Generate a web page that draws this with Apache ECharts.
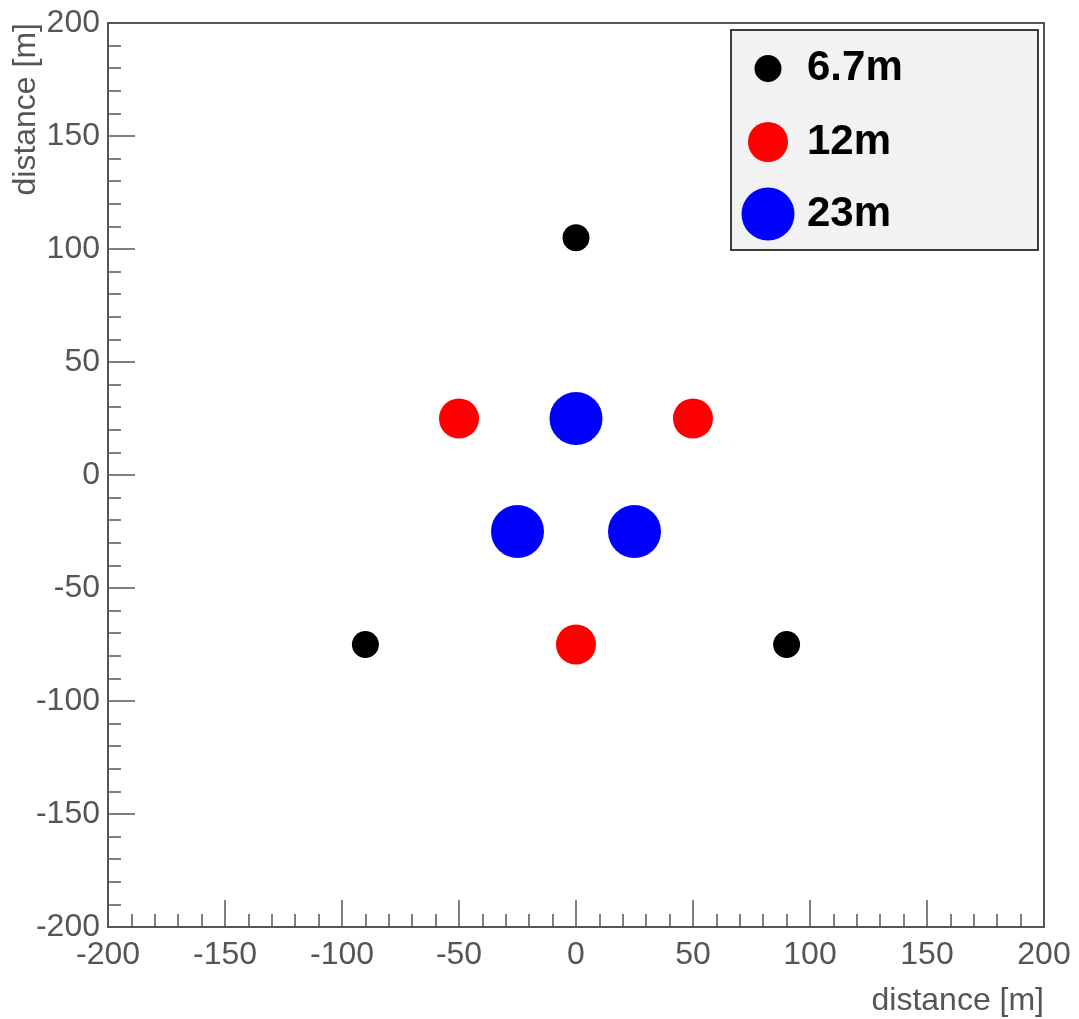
<!DOCTYPE html>
<html>
<head>
<meta charset="utf-8">
<script src="https://cdn.jsdelivr.net/npm/echarts@6/dist/echarts.min.js"></script>
<style>
html,body{margin:0;padding:0;background:#fff;}
#chart{width:1079px;height:1019px;}
</style>
</head>
<body>
<div id="chart"></div>
<script>
// Data
const seriesNames = ['6.7m', '12m', '23m'];
const blackX = [0, -90, 90];
const blackY = [105, -75, -75];
const redX = [-50, 50, 0];
const redY = [25, 25, -75];
const blueX = [0, -25, 25];
const blueY = [25, -25, -25];
const axisTicks = [-200, -150, -100, -50, 0, 50, 100, 150, 200];
const axisTitle = 'distance [m]';

const pts = (xs, ys) => xs.map((x, i) => [x, ys[i]]);

const axisColor = '#555555';
const font = '"Liberation Sans", Arial, Helvetica, sans-serif';

function makeAxis(isX) {
  return {
    type: 'value',
    min: axisTicks[0],
    max: axisTicks[axisTicks.length - 1],
    interval: axisTicks[1] - axisTicks[0],
    name: axisTitle,
    nameLocation: 'end',
    nameGap: 0,
    nameRotate: isX ? 0 : 90,
    nameTextStyle: isX ? {
      fontFamily: font, fontSize: 32, color: axisColor,
      align: 'right', verticalAlign: 'top', padding: [58, 0, 0, 0]
    } : {
      fontFamily: font, fontSize: 32, color: axisColor,
      align: 'right', verticalAlign: 'bottom', padding: [0, 0, 66, 0]
    },
    axisLine: { show: true, onZero: false, lineStyle: { color: axisColor, width: 2 } },
    axisTick: { show: true, inside: true, length: 27, lineStyle: { color: axisColor, width: 1.5 } },
    minorTick: { show: true, splitNumber: 5, length: 13, lineStyle: { color: axisColor, width: 1.5 } },
    splitLine: { show: false },
    minorSplitLine: { show: false },
    axisLabel: {
      fontFamily: font, fontSize: 32, color: axisColor,
      margin: isX ? 12 : 8,
      showMinLabel: true, showMaxLabel: true
    }
  };
}

const colors = ['#000000', '#ff0000', '#0000ff'];
const sizes = [27, 40, 53];
const data = [pts(blackX, blackY), pts(redX, redY), pts(blueX, blueY)];
const legendCenters = [67, 141, 214];
const legendIconCenterX = 768;

const chart = echarts.init(document.getElementById('chart'), null, { renderer: 'canvas' });
chart.setOption({
  animation: false,
  backgroundColor: '#ffffff',
  grid: {
    left: 108, right: 35, top: 23, bottom: 92,
    show: true, borderColor: axisColor, borderWidth: 2, backgroundColor: 'transparent'
  },
  xAxis: makeAxis(true),
  yAxis: makeAxis(false),
  graphic: [{
    type: 'rect',
    z: 50,
    shape: { x: 731, y: 30, width: 307, height: 220 },
    style: { fill: '#f2f2f2', stroke: '#000000', lineWidth: 1.5 }
  }],
  legend: seriesNames.map((n, i) => ({
    data: [{ name: n, icon: 'circle' }],
    left: legendIconCenterX - sizes[i] / 2,
    top: legendCenters[i] - Math.max(sizes[i], 39) / 2,
    padding: 0,
    itemWidth: 68,
    itemHeight: sizes[i],
    z: 60,
    selectedMode: false,
    textStyle: { fontFamily: font, fontSize: 42, fontWeight: 'bold', color: '#000000' }
  })),
  series: seriesNames.map((n, i) => ({
    name: n,
    type: 'scatter',
    symbol: 'circle',
    symbolSize: sizes[i],
    itemStyle: { color: colors[i], opacity: 1 },
    data: data[i]
  }))
});
</script>
</body>
</html>
